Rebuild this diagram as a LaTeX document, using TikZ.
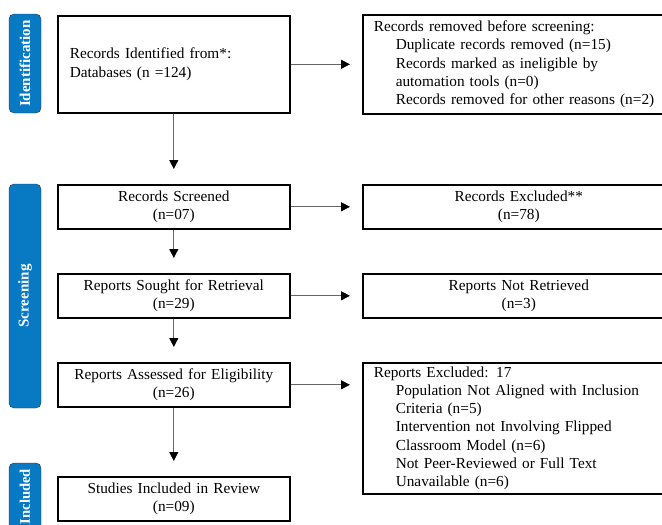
\documentclass[tikz,border=0pt]{standalone}
\usepackage{fontspec}
\setmainfont{Liberation Serif}
\usetikzlibrary{arrows.meta,positioning,calc}
\definecolor{stageblue}{RGB}{8,122,196}
\newcommand\indline{\hspace*{22pt}}

\begin{document}
\begin{tikzpicture}[x=1pt,y=-1pt,
  font=\fontsize{15.3}{18.3}\selectfont,
  box/.style={draw,line width=1.6pt,anchor=north west,minimum width=232pt,minimum height=44pt,text width=208pt,inner xsep=12pt,inner ysep=0pt,align=center},
  sidebox/.style={draw,line width=1.6pt,anchor=north west,minimum height=44pt,text width=290pt,inner xsep=11pt,inner ysep=0pt,align=left},
  stage/.style={draw=black!80,fill=stageblue,rounded corners=5pt,rotate=90,minimum height=32pt,text=white,font=\fontsize{15}{18}\selectfont\bfseries,inner sep=0pt},
  flow/.style={draw=gray!80!black,line width=0.9pt,-{Triangle[black,length=9pt,width=9pt]}}]
  \useasboundingbox (0,0) rectangle (662,525);
  \clip (0,0) rectangle (662,525);
  % stage labels
  \node[stage,minimum width=99pt] (idlab) at (25,63.5) {Identification};
  \node[stage,minimum width=224pt] (scrlab) at (25,296) {Screening};
  \node[stage,minimum width=67pt,font=\fontsize{14.6}{18}\selectfont\bfseries] (inclab) at (25,496.5) {Included};
  % main column
  \node[box,minimum height=97pt,align=left] (ident) at (57,15) {Records Identified from*:\\Databases (n =124)};
  \node[box] (screened) at (57,184) {Records Screened\\(n=07)};
  \node[box] (sought) at (57,273) {Reports Sought for Retrieval\\(n=29)};
  \node[box] (assessed) at (57,362) {Reports Assessed for Eligibility\\(n=26)};
  \node[box] (included) at (57,476) {Studies Included in Review\\(n=09)};
  % side column
  \node[sidebox,minimum height=99pt] (removed) at (362,14) {Records removed before screening:\\
    \indline Duplicate records removed (n=15)\\
    \indline Records marked as ineligible by\\
    \indline automation tools (n=0)\\
    \indline Records removed for other reasons (n=2)};
  \node[sidebox,align=center] (excluded) at (362,184) {Records Excluded**\\(n=78)};
  \node[sidebox,align=center] (notretr) at (362,273) {Reports Not Retrieved\\(n=3)};
  \node[sidebox,minimum height=131pt] (repexcl) at (362,362) {Reports Excluded: 17\\
    \indline Population Not Aligned with Inclusion\\
    \indline Criteria (n=5)\\
    \indline Intervention not Involving Flipped\\
    \indline Classroom Model (n=6)\\
    \indline Not Peer-Reviewed or Full Text\\
    \indline Unavailable (n=6)};
  % arrows down
  \draw[flow,shorten >=15pt] (ident.south) -- (screened.north);
  \draw[flow,shorten >=15pt] (screened.south) -- (sought.north);
  \draw[flow,shorten >=15pt] (sought.south) -- (assessed.north);
  \draw[flow,shorten >=15pt] (assessed.south) -- (included.north);
  % arrows right
  \draw[flow,shorten >=12pt] (ident.east) -- (ident.east -| removed.west);
  \draw[flow,shorten >=12pt] (screened.east) -- (excluded.west);
  \draw[flow,shorten >=12pt] (sought.east) -- (notretr.west);
  \draw[flow,shorten >=12pt] (assessed.east) -- (assessed.east -| repexcl.west);
\end{tikzpicture}
\end{document}
